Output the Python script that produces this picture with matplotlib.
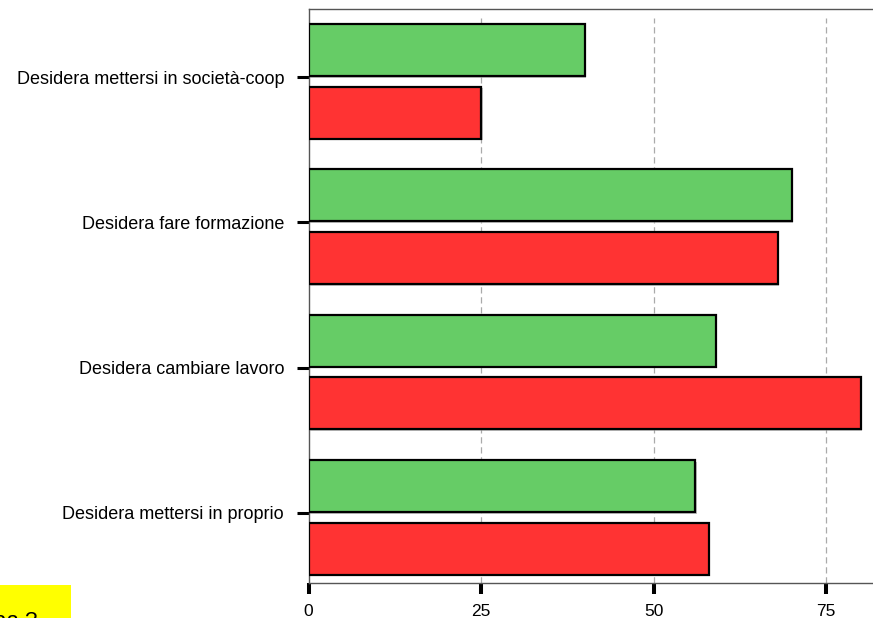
import matplotlib
matplotlib.use("Agg")
import matplotlib.pyplot as plt
import matplotlib.patheffects as pe
from matplotlib.patches import Rectangle
import numpy as np

categories = ["Desidera mettersi in proprio", "Desidera cambiare lavoro",
              "Desidera fare formazione", "Desidera mettersi in società-coop"]
green_vals = [56, 59, 70, 40]
red_vals = [58, 80, 68, 25]
x_ticks = [0, 25, 50, 75]

plt.rcParams['font.family'] = ['Liberation Sans', 'DejaVu Sans']

W, H = 873, 618
fig = plt.figure(figsize=(W / 100, H / 100), dpi=100)

# axes box in pixels: left 308.5, top 9, bottom 583, runs past the right edge
left, top, bottom = 308.5, 9, 583
ax = fig.add_axes([left / W, 1 - bottom / H, 1 - left / W, (bottom - top) / H])

y = np.arange(len(categories))
h = 0.358
shadow = [pe.SimplePatchShadow(offset=(1.2, -1.2), shadow_rgbFace='#999999', alpha=0.6), pe.Normal()]

ax.barh(y + 0.185, green_vals, height=h, color='#66CC66', edgecolor='black',
        linewidth=1.6, zorder=3, path_effects=shadow)
ax.barh(y - 0.245, red_vals, height=h, color='#FF3333', edgecolor='black',
        linewidth=1.6, zorder=3, path_effects=shadow)

ax.set_xlim(0, 81.8)
ax.set_ylim(-0.482, 3.468)

# dashed grid, stopping a little below the top frame
for xt in x_ticks[1:]:
    ax.axvline(xt, ymax=0.984, color='#aaaaaa', linestyle=(0, (5, 3)), linewidth=0.9, zorder=1)

ax.set_xticks(x_ticks)
ax.set_xticklabels([str(v) for v in x_ticks])
ax.set_yticks(y)
ax.set_yticklabels(categories)

ax.tick_params(axis='x', direction='out', length=8, width=2.9, color='black', pad=7, labelsize=12.5)
ax.tick_params(axis='y', direction='out', length=8.6, width=2.2, color='black', pad=9, labelsize=13)

for s in ['top', 'left', 'bottom']:
    ax.spines[s].set_color('#555555')
    ax.spines[s].set_linewidth(1.0)
ax.spines['right'].set_visible(False)

# yellow note box in the lower-left corner, cut by the figure edge
fig.patches.append(Rectangle((0, 0), 71 / W, 33 / H, transform=fig.transFigure,
                             facecolor='yellow', edgecolor='none', zorder=0))
fig.text(-6 / W, 1 - 627 / H, "aa ?", fontsize=16, va='baseline', ha='left', color='black')

fig.savefig("out.png", dpi=100)
